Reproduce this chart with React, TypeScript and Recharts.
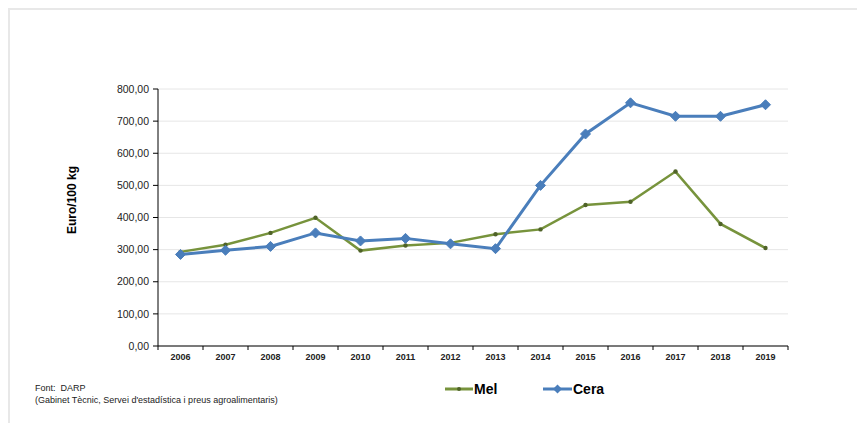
import { LineChart, Line, XAxis, YAxis, CartesianGrid } from "recharts";

const years = ["2006", "2007", "2008", "2009", "2010", "2011", "2012", "2013", "2014", "2015", "2016", "2017", "2018", "2019"];
const mel = [293, 315, 352, 399, 297, 313, 321, 348, 363, 439, 449, 543, 380, 305];
const cera = [285, 298, 310, 352, 327, 335, 318, 303, 500, 660, 757, 715, 715, 751];
const yTicks = [0, 100, 200, 300, 400, 500, 600, 700, 800];
const seriesNames = ["Mel", "Cera"];

const data = years.map((y, i) => ({ year: y, mel: mel[i], cera: cera[i] }));

const GREEN = "#77933C";
const GREEN_DARK = "#4F6228";
const BLUE = "#4A7EBB";
const FONT = "'Liberation Sans', Arial, sans-serif";
const HALF_BAND = 22.5;

const fmt = (v: number) => v.toFixed(2).replace(".", ",");

function Diamond(props: any) {
  const { cx, cy } = props;
  if (cx == null || cy == null) return null;
  const s = 5;
  return (
    <polygon
      points={`${cx},${cy - s} ${cx + s},${cy} ${cx},${cy + s} ${cx - s},${cy}`}
      fill={BLUE}
      stroke={BLUE}
      strokeWidth={1}
    />
  );
}

function SmallDot(props: any) {
  const { cx, cy } = props;
  if (cx == null || cy == null) return null;
  return <circle cx={cx} cy={cy} r={2.2} fill={GREEN_DARK} />;
}

function YearTick(props: any) {
  const { x, y, payload, index } = props;
  const last = index === years.length - 1;
  return (
    <g>
      <line x1={x - HALF_BAND} y1={y} x2={x - HALF_BAND} y2={y + 4} stroke="#000" />
      {last && <line x1={x + HALF_BAND} y1={y} x2={x + HALF_BAND} y2={y + 4} stroke="#000" />}
      <text x={x} y={y + 14} textAnchor="middle" fontSize={9} fontWeight="bold" fill="#222" fontFamily={FONT}>
        {payload.value}
      </text>
    </g>
  );
}

function YLabel() {
  return (
    <text
      x={76}
      y={200}
      transform="rotate(-90, 76, 200)"
      textAnchor="middle"
      fontSize={12}
      fontWeight="bold"
      fill="#000"
      fontFamily={FONT}
    >
      Euro/100 kg
    </text>
  );
}

export default function App() {
  return (
    <div style={{ position: "absolute", left: 0, top: 0, width: 857, height: 423, background: "#fff", overflow: "hidden" }}>
      <div
        style={{
          position: "absolute",
          left: 8,
          top: 8,
          width: 860,
          height: 430,
          borderTop: "2px solid #e8e8e8",
          borderLeft: "2px solid #e8e8e8",
        }}
      />
      <LineChart
        width={857}
        height={423}
        data={data}
        margin={{ top: 89, right: 69, left: 0, bottom: 57 }}
        style={{ position: "absolute", left: 0, top: 0 }}
      >
        <CartesianGrid stroke="#e6e6e6" vertical={false} />
        <XAxis
          dataKey="year"
          scale="band"
          axisLine={{ stroke: "#000" }}
          tickLine={false}
          tickSize={0}
          tickMargin={0}
          height={20}
          interval={0}
          tick={<YearTick />}
        />
        <YAxis
          width={158}
          domain={[0, 800]}
          ticks={yTicks}
          tickFormatter={fmt}
          axisLine={{ stroke: "#000" }}
          tickLine={{ stroke: "#000" }}
          tickSize={5}
          tickMargin={4}
          tick={{ fontSize: 10.5, fill: "#222", fontFamily: FONT }}
          label={<YLabel />}
        />
        <Line
          dataKey="mel"
          name={seriesNames[0]}
          stroke={GREEN}
          strokeWidth={2.5}
          dot={<SmallDot />}
          activeDot={false}
          isAnimationActive={false}
        />
        <Line
          dataKey="cera"
          name={seriesNames[1]}
          stroke={BLUE}
          strokeWidth={3}
          dot={<Diamond />}
          activeDot={false}
          isAnimationActive={false}
        />
      </LineChart>
      <div style={{ position: "absolute", left: 445, top: 381, display: "flex", fontFamily: FONT, fontSize: 14, fontWeight: "bold", color: "#000" }}>
        <div style={{ display: "flex", alignItems: "center", width: 98 }}>
          <svg width={28} height={12}>
            <line x1={0} y1={6} x2={28} y2={6} stroke={GREEN} strokeWidth={3} />
            <circle cx={14} cy={6} r={2} fill={GREEN_DARK} />
          </svg>
          <span style={{ marginLeft: 1 }}>{seriesNames[0]}</span>
        </div>
        <div style={{ display: "flex", alignItems: "center" }}>
          <svg width={29} height={12}>
            <line x1={0} y1={6} x2={29} y2={6} stroke={BLUE} strokeWidth={3} />
            <polygon points="14.5,1.5 19,6 14.5,10.5 10,6" fill={BLUE} />
          </svg>
          <span style={{ marginLeft: 1 }}>{seriesNames[1]}</span>
        </div>
      </div>
      <div style={{ position: "absolute", left: 35, top: 382, fontFamily: FONT, fontSize: 9, lineHeight: "12px", color: "#222" }}>
        <div>Font:&nbsp; DARP</div>
        <div>(Gabinet Tècnic, Servei d'estadística i preus agroalimentaris)</div>
      </div>
    </div>
  );
}
